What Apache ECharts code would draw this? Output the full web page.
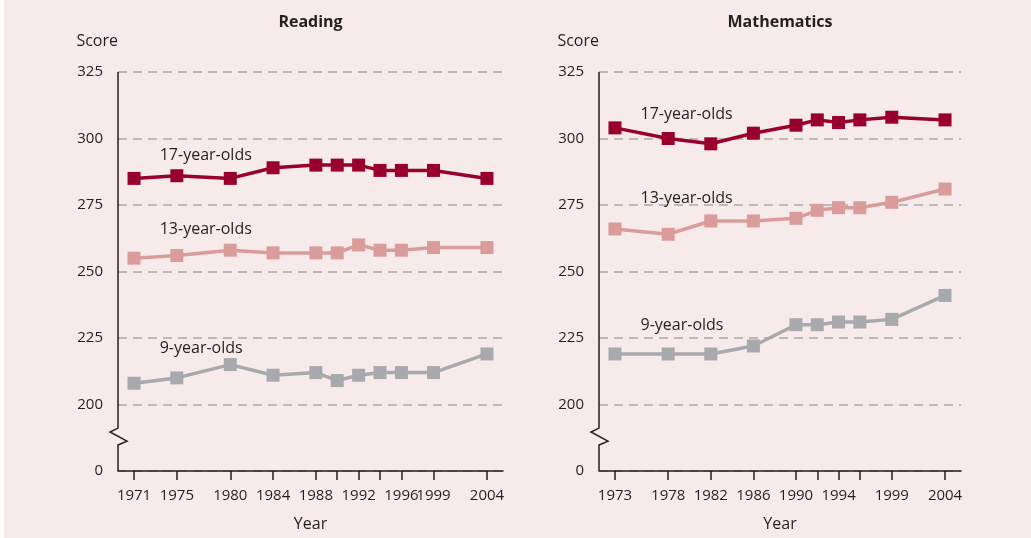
<!DOCTYPE html>
<html>
<head>
<meta charset="utf-8">
<script src="https://cdn.jsdelivr.net/npm/echarts@6/dist/echarts.min.js"></script>
<style>
  html, body { margin: 0; padding: 0; background: #ffffff; }
  #chart { width: 1031px; height: 538px; background: linear-gradient(to right, #ffffff 4px, #f6eaea 4px); }
</style>
</head>
<body>
<div id="chart"></div>
<script>
// ---- data ----
const readingYears = [1971, 1975, 1980, 1984, 1988, 1990, 1992, 1994, 1996, 1999, 2004];
const reading17 = [285, 286, 285, 289, 290, 290, 290, 288, 288, 288, 285];
const reading13 = [255, 256, 258, 257, 257, 257, 260, 258, 258, 259, 259];
const reading9  = [208, 210, 215, 211, 212, 209, 211, 212, 212, 212, 219];
const readingYearLabels = [1971, 1975, 1980, 1984, 1988, 1992, 1996, 1999, 2004];

const mathYears = [1973, 1978, 1982, 1986, 1990, 1992, 1994, 1996, 1999, 2004];
const math17 = [304, 300, 298, 302, 305, 307, 306, 307, 308, 307];
const math13 = [266, 264, 269, 269, 270, 273, 274, 274, 276, 281];
const math9  = [219, 219, 219, 222, 230, 230, 231, 231, 232, 241];
const mathYearLabels = [1973, 1978, 1982, 1986, 1990, 1994, 1999, 2004];

const yTickLabels = [0, 200, 225, 250, 275, 300, 325];
const seriesNames = ['17-year-olds', '13-year-olds', '9-year-olds'];
const panelTitles = ['Reading', 'Mathematics'];
// label anchor positions [year, score] for the series annotations
const readingLabelPos = [[1973.4, 293.8], [1973.4, 266], [1973.4, 221]];
const mathLabelPos = [[1975.4, 309.2], [1975.4, 277.3], [1975.4, 229.9]];

// ---- styling ----
const colors = ['#98002e', '#d99c9b', '#a8a9ad'];
const textColor = '#231f20';
const font = '"Open Sans", "Noto Sans", sans-serif';

// broken axis: 0..200 compressed into one unit, then 25 points per unit
function scaleY(v) { return v >= 200 ? 1 + (v - 200) / 25 : v / 200; }

const grids = [
  { left: 118, top: 72, width: 385, height: 399, outerBoundsMode: 'none', containLabel: false },
  { left: 599, top: 72, width: 362, height: 399, outerBoundsMode: 'none', containLabel: false }
];
const xRanges = [[1969.5, 2005.5], [1971.5, 2005.5]];
const tickYears = [readingYears, mathYears];
const labelYears = [readingYearLabels, mathYearLabels];

function makeXAxis(i) {
  return {
    type: 'value', gridIndex: i, min: xRanges[i][0], max: xRanges[i][1],
    axisLine: { show: true, lineStyle: { color: textColor, width: 1.5 } },
    axisTick: { show: true, customValues: tickYears[i], length: 9, lineStyle: { color: textColor, width: 1.5 } },
    axisLabel: { customValues: labelYears[i], color: textColor, fontSize: 15, fontFamily: font, margin: 17,
                 formatter: v => String(v) },
    splitLine: { show: false },
    name: 'Year', nameLocation: 'middle', nameGap: 45,
    nameTextStyle: { color: textColor, fontSize: 16, fontFamily: font }
  };
}
function makeYAxis(i) {
  return {
    type: 'value', gridIndex: i, min: 0, max: 6, interval: 1,
    axisLine: { show: false }, axisTick: { show: false },
    axisLabel: { color: textColor, fontSize: 15, fontFamily: font, margin: 15,
                 formatter: v => String(yTickLabels[Math.round(v)]) },
    splitLine: { show: true, lineStyle: { color: '#a9a9a9', width: 1.5, type: [9, 6] } }
  };
}
function makeSeries(i, years, vals, k) {
  return {
    type: 'line', xAxisIndex: i, yAxisIndex: i, name: seriesNames[k],
    data: years.map((y, j) => [y, scaleY(vals[j])]),
    symbol: 'rect', symbolSize: 13, clip: false,
    lineStyle: { color: colors[k], width: 3.5 },
    itemStyle: { color: colors[k] },
    z: 5 - k
  };
}

const chart = echarts.init(document.getElementById('chart'), null, { renderer: 'canvas' });
chart.setOption({
  animation: false,
  backgroundColor: 'transparent',
  grid: grids,
  xAxis: [makeXAxis(0), makeXAxis(1)],
  yAxis: [makeYAxis(0), makeYAxis(1)],
  series: [
    makeSeries(0, readingYears, reading17, 0),
    makeSeries(0, readingYears, reading13, 1),
    makeSeries(0, readingYears, reading9, 2),
    makeSeries(1, mathYears, math17, 0),
    makeSeries(1, mathYears, math13, 1),
    makeSeries(1, mathYears, math9, 2)
  ]
});

// ---- annotations, titles, broken y axis lines ----
const graphics = [];
const labelPos = [readingLabelPos, mathLabelPos];
for (let i = 0; i < 2; i++) {
  const g = grids[i];
  const pTop = chart.convertToPixel({ gridIndex: i }, [xRanges[i][0], 6]);
  const p0 = chart.convertToPixel({ gridIndex: i }, [xRanges[i][0], 0]);
  const ax = pTop[0], yTop = pTop[1], y0 = p0[1];
  const u = (y0 - yTop) / 6;
  graphics.push({
    type: 'polyline', z: 10,
    shape: { points: [
      [ax, yTop], [ax, y0 - 0.645 * u], [ax - 8, y0 - 0.586 * u],
      [ax + 9, y0 - 0.45 * u], [ax, y0 - 0.39 * u], [ax, y0]
    ] },
    style: { stroke: textColor, lineWidth: 1.5, fill: null }
  });
  graphics.push({
    type: 'text', x: g.left + g.width / 2, y: 22,
    style: { text: panelTitles[i], fill: textColor, font: 'bold 16px ' + font, textAlign: 'center', textVerticalAlign: 'middle' }
  });
  graphics.push({
    type: 'text', x: ax, y: 41,
    style: { text: 'Score', fill: textColor, font: '16px ' + font, textAlign: 'right', textVerticalAlign: 'middle' }
  });
  for (let k = 0; k < 3; k++) {
    const pp = chart.convertToPixel({ gridIndex: i }, [labelPos[i][k][0], scaleY(labelPos[i][k][1])]);
    graphics.push({
      type: 'text', x: pp[0], y: pp[1], z: 10,
      style: { text: seriesNames[k], fill: textColor, font: '16px ' + font, textAlign: 'left', textVerticalAlign: 'middle' }
    });
  }
}
chart.setOption({ graphic: graphics });
</script>
</body>
</html>
